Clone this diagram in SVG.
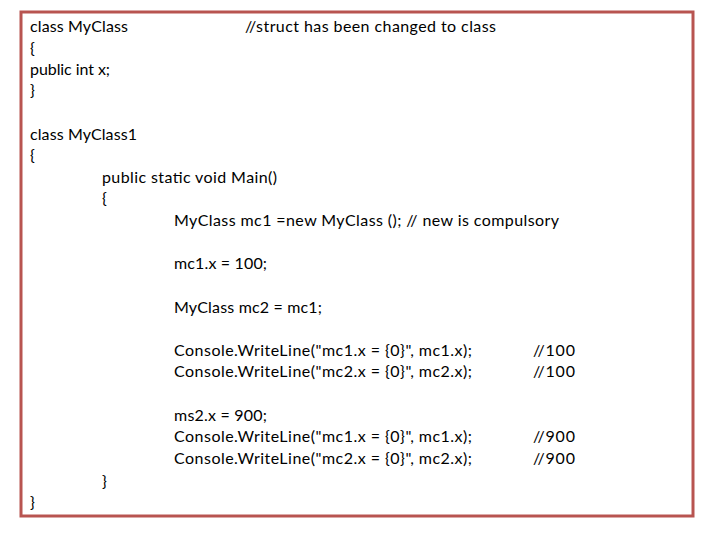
<svg xmlns="http://www.w3.org/2000/svg" width="720" height="540" viewBox="0 0 720 540">
<style>text{font-family:Lato,"Liberation Sans",sans-serif;font-size:16px;fill:#000}</style>
<rect width="720" height="540" fill="#fff"/>
<rect x="21" y="12" width="672" height="504" fill="#fff" stroke="#b85450" stroke-width="3"/>
<text x="30" y="32" textLength="98" lengthAdjust="spacing">class MyClass</text>
<text x="245" y="32" textLength="251" lengthAdjust="spacing">//struct has been changed to class</text>
<text x="30" y="54">{</text>
<text x="30" y="75" textLength="80" lengthAdjust="spacing">public int x;</text>
<text x="30" y="96">}</text>
<text x="30" y="140" textLength="107" lengthAdjust="spacing">class MyClass1</text>
<text x="30" y="161">{</text>
<text x="102" y="183" textLength="175" lengthAdjust="spacing">public static void Main()</text>
<text x="102" y="204">{</text>
<text x="174" y="226" textLength="385" lengthAdjust="spacing">MyClass mc1 =new  MyClass ();  // new is compulsory</text>
<text x="174" y="269" textLength="93" lengthAdjust="spacing">mc1.x = 100;</text>
<text x="174" y="313" textLength="148" lengthAdjust="spacing">MyClass mc2 = mc1;</text>
<text x="174" y="356" textLength="298" lengthAdjust="spacing">Console.WriteLine("mc1.x = {0}", mc1.x);</text>
<text x="533" y="356" textLength="42" lengthAdjust="spacing">//100</text>
<text x="174" y="377" textLength="298" lengthAdjust="spacing">Console.WriteLine("mc2.x = {0}", mc2.x);</text>
<text x="533" y="377" textLength="42" lengthAdjust="spacing">//100</text>
<text x="174" y="421" textLength="93" lengthAdjust="spacing">ms2.x = 900;</text>
<text x="174" y="442" textLength="298" lengthAdjust="spacing">Console.WriteLine("mc1.x = {0}", mc1.x);</text>
<text x="533" y="442" textLength="42" lengthAdjust="spacing">//900</text>
<text x="174" y="464" textLength="298" lengthAdjust="spacing">Console.WriteLine("mc2.x = {0}", mc2.x);</text>
<text x="533" y="464" textLength="42" lengthAdjust="spacing">//900</text>
<text x="102" y="487">}</text>
<text x="30" y="508">}</text>
</svg>
